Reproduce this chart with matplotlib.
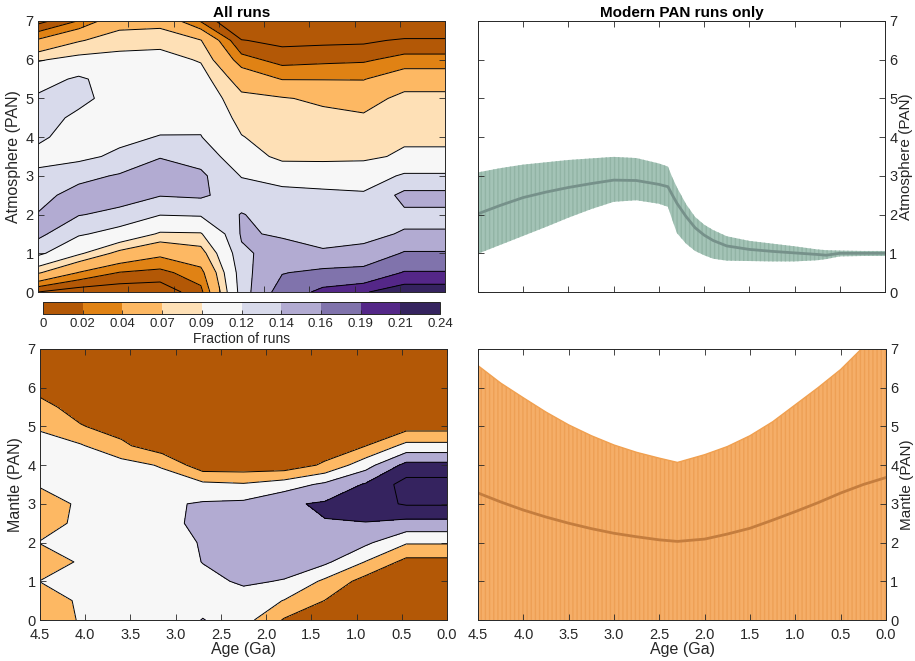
import numpy as np
import matplotlib
matplotlib.use('Agg')
import matplotlib as mpl
import matplotlib.pyplot as plt
from matplotlib.colors import ListedColormap, BoundaryNorm

plt.rcParams['font.family'] = ['Liberation Sans', 'DejaVu Sans']
plt.rcParams['hatch.linewidth'] = 1.0

# grid of the run statistics: ages (Ga) and PAN levels
ages = [4.5, 4.05, 3.6, 3.15, 2.7, 2.25, 1.8, 1.35, 0.9, 0.45, 0.0]
pan = [0.0, 0.5, 1.0, 1.5, 2.0, 2.5, 3.0, 3.5, 4.0, 4.5, 5.0, 5.5, 6.0, 6.5, 7.0]

# fraction of runs, atmosphere; one list per age column, PAN 0 -> 7
atm_frac = [
    [0.000, 0.073, 0.126, 0.145, 0.141, 0.133, 0.125, 0.113, 0.124, 0.128, 0.124, 0.109, 0.088, 0.043, -0.008],
    [-0.012, 0.039, 0.094, 0.123, 0.141, 0.148, 0.134, 0.115, 0.110, 0.116, 0.125, 0.124, 0.097, 0.068, 0.021],
    [-0.014, 0.019, 0.063, 0.111, 0.135, 0.148, 0.142, 0.124, 0.115, 0.113, 0.112, 0.107, 0.097, 0.081, 0.060],
    [-0.015, 0.014, 0.046, 0.087, 0.121, 0.141, 0.150, 0.139, 0.121, 0.112, 0.108, 0.104, 0.098, 0.083, 0.062],
    [0.014, 0.032, 0.060, 0.088, 0.123, 0.143, 0.144, 0.132, 0.121, 0.113, 0.106, 0.100, 0.088, 0.071, 0.018],
    [0.131, 0.133, 0.137, 0.142, 0.141, 0.130, 0.119, 0.107, 0.091, 0.083, 0.076, 0.058, 0.028, 0.001, -0.030],
    [0.170, 0.159, 0.147, 0.138, 0.131, 0.124, 0.115, 0.082, 0.080, 0.076, 0.072, 0.039, 0.012, -0.006, -0.025],
    [0.198, 0.165, 0.141, 0.137, 0.130, 0.126, 0.107, 0.084, 0.082, 0.077, 0.065, 0.039, 0.015, -0.005, -0.025],
    [0.208, 0.168, 0.143, 0.137, 0.130, 0.124, 0.104, 0.086, 0.080, 0.074, 0.058, 0.039, 0.017, -0.004, -0.025],
    [0.222, 0.192, 0.162, 0.141, 0.137, 0.145, 0.124, 0.093, 0.087, 0.081, 0.078, 0.055, 0.027, 0.003, -0.030],
    [0.222, 0.192, 0.162, 0.141, 0.137, 0.145, 0.124, 0.093, 0.087, 0.081, 0.078, 0.055, 0.027, 0.003, -0.030],
]

# fraction of runs, mantle
mantle_frac = [
    [0.060, 0.070, 0.101, 0.070, 0.102, 0.080, 0.075, 0.105, 0.120, 0.115, 0.095, 0.065, 0.035, 0.020, 0.010],
    [0.105, 0.108, 0.112, 0.106, 0.115, 0.110, 0.108, 0.118, 0.120, 0.105, 0.053, 0.030, 0.020, 0.015, 0.010],
    [0.115, 0.118, 0.120, 0.122, 0.125, 0.127, 0.128, 0.125, 0.120, 0.060, 0.030, 0.020, 0.015, 0.010, 0.010],
    [0.110, 0.118, 0.122, 0.127, 0.132, 0.138, 0.142, 0.125, 0.095, 0.020, 0.015, 0.010, 0.010, 0.010, 0.010],
    [0.152, 0.130, 0.140, 0.151, 0.153, 0.160, 0.155, 0.112, 0.020, 0.010, 0.010, 0.010, 0.010, 0.010, 0.010],
    [0.120, 0.135, 0.155, 0.170, 0.180, 0.175, 0.160, 0.105, 0.020, 0.010, 0.010, 0.010, 0.010, 0.010, 0.010],
    [0.045, 0.098, 0.148, 0.165, 0.178, 0.190, 0.193, 0.125, 0.020, 0.010, 0.010, 0.010, 0.010, 0.010, 0.010],
    [0.000, 0.049, 0.090, 0.160, 0.180, 0.198, 0.206, 0.160, 0.058, 0.020, 0.010, 0.010, 0.010, 0.010, 0.010],
    [0.000, 0.010, 0.030, 0.098, 0.160, 0.198, 0.230, 0.205, 0.130, 0.049, 0.020, 0.010, 0.010, 0.010, 0.010],
    [0.000, 0.000, 0.010, 0.035, 0.105, 0.185, 0.255, 0.270, 0.215, 0.115, 0.030, 0.010, 0.005, 0.005, 0.005],
    [0.000, 0.000, 0.010, 0.035, 0.105, 0.185, 0.255, 0.270, 0.215, 0.115, 0.030, 0.010, 0.005, 0.005, 0.005],
]

# contour levels / colorbar
levels = [0, 0.02, 0.04, 0.07, 0.09, 0.12, 0.14, 0.16, 0.19, 0.21, 0.24]
level_labels = ['0', '0.02', '0.04', '0.07', '0.09', '0.12', '0.14', '0.16', '0.19', '0.21', '0.24']
mantle_levels = [0.05, 0.10, 0.15, 0.20, 0.25]

# modern-PAN runs: mean and spread
atm_age = [4.5, 4.25, 4.0, 3.75, 3.5, 3.25, 3.0, 2.75, 2.5, 2.4, 2.35, 2.3, 2.2, 2.1, 2.0,
           1.9, 1.75, 1.5, 1.25, 1.0, 0.75, 0.65, 0.5, 0.25, 0.0]
atm_mean = [2.02, 2.24, 2.44, 2.58, 2.70, 2.80, 2.89, 2.88, 2.78, 2.72, 2.50, 2.29, 1.95, 1.66, 1.47,
            1.33, 1.19, 1.10, 1.05, 1.01, 0.97, 0.95, 1.00, 1.00, 1.00]
atm_hi = [3.09, 3.20, 3.29, 3.35, 3.41, 3.45, 3.49, 3.46, 3.32, 3.24, 2.95, 2.70, 2.27, 1.94, 1.74,
          1.60, 1.44, 1.32, 1.25, 1.18, 1.10, 1.08, 1.07, 1.06, 1.06]
atm_lo = [0.99, 1.22, 1.45, 1.68, 1.92, 2.14, 2.33, 2.37, 2.28, 2.20, 1.85, 1.52, 1.25, 1.06, 0.95,
          0.86, 0.81, 0.80, 0.79, 0.79, 0.82, 0.85, 0.92, 0.93, 0.93]

mantle_age = [4.5, 4.25, 4.0, 3.75, 3.5, 3.25, 3.0, 2.75, 2.5, 2.3, 2.0, 1.75, 1.5, 1.25, 1.0,
              0.75, 0.5, 0.25, 0.0]
mantle_mean = [3.28, 3.05, 2.84, 2.66, 2.50, 2.36, 2.24, 2.15, 2.07, 2.03, 2.09, 2.22, 2.37, 2.58, 2.80,
               3.03, 3.28, 3.50, 3.68]
mantle_hi = [6.57, 6.12, 5.74, 5.37, 5.04, 4.76, 4.52, 4.33, 4.18, 4.07, 4.27, 4.48, 4.76, 5.12, 5.56,
             6.00, 6.47, 7.05, 7.60]

puor = ['#b35806', '#e08214', '#fdb863', '#fee0b6', '#f7f7f7',
        '#d8daeb', '#b2abd2', '#8073ac', '#542788', '#35235f']
ink = '#262626'

W, H = 915, 661
fig = plt.figure(figsize=(W / 100, H / 100), dpi=100)


def box(x0, y0, x1, y1):
    return [x0 / W, 1 - y1 / H, (x1 - x0) / W, (y1 - y0) / H]


ax_atm = fig.add_axes(box(38, 21, 445, 292))
ax_atm_pan = fig.add_axes(box(478, 21, 885, 292))
ax_man = fig.add_axes(box(40, 349, 447, 620))
ax_man_pan = fig.add_axes(box(478, 349, 886, 620))
cax = fig.add_axes(box(43, 302, 440, 314))


def style(ax, right=False, xlabels=True):
    ax.set_xlim(4.5, 0)
    ax.set_ylim(0, 7)
    ax.set_xticks([4.5, 4.0, 3.5, 3.0, 2.5, 2.0, 1.5, 1.0, 0.5, 0.0])
    ax.set_xticklabels(['4.5', '4.0', '3.5', '3.0', '2.5', '2.0', '1.5', '1.0', '0.5', '0.0'])
    ax.set_yticks(range(8))
    ax.tick_params(direction='in', top=True, bottom=True, left=True, right=True,
                   length=4, width=0.6, color=ink, labelcolor=ink, labelsize=10.5, pad=3)
    ax.tick_params(axis='x', pad=6)
    ax.tick_params(labelbottom=xlabels, labelleft=not right, labelright=right)
    if right:
        ax.yaxis.set_label_position('right')
    if xlabels:
        ax.set_xlabel('Age (Ga)', fontsize=11.5, color=ink, labelpad=0)
    for s in ax.spines.values():
        s.set_color(ink)
        s.set_linewidth(0.7)


# atmosphere, all runs
Z = np.array(atm_frac).T
ax_atm.contourf(ages, pan, Z, levels=[-1] + levels[1:-1] + [1], colors=puor)
ax_atm.contour(ages, pan, Z, levels=levels[:-1], colors='k', linewidths=0.7)
style(ax_atm, xlabels=False)
ax_atm.set_ylabel('Atmosphere (PAN)', fontsize=11.5, color=ink, labelpad=3)
ax_atm.set_title('All runs', fontsize=11, fontweight='bold', pad=3)

# mantle, all runs
Zm = np.array(mantle_frac).T
ax_man.contourf(ages, pan, Zm, levels=[-1] + mantle_levels + [1],
                colors=[puor[0], puor[2], puor[4], puor[6], puor[9], puor[9]])
ax_man.contour(ages, pan, Zm, levels=mantle_levels, colors='k', linewidths=0.7)
style(ax_man)
ax_man.set_ylabel('Mantle (PAN)', fontsize=11.5, color=ink, labelpad=3)

# colorbar
sm = mpl.cm.ScalarMappable(norm=BoundaryNorm(levels, 10), cmap=ListedColormap(puor))
cb = fig.colorbar(sm, cax=cax, orientation='horizontal', ticks=levels, spacing='uniform')
cb.set_ticklabels(level_labels)
cb.ax.tick_params(direction='in', length=3, width=0.6, color=ink, labelcolor=ink, labelsize=9.5, pad=3)
cb.outline.set_linewidth(0.7)
cb.outline.set_edgecolor(ink)
cb.set_label('Fraction of runs', fontsize=10, color=ink, labelpad=1)

# modern PAN runs, atmosphere
ax_atm_pan.fill_between(atm_age, atm_lo, atm_hi, facecolor='#a3c3b6', edgecolor='#92b4a5',
                        hatch='||||', linewidth=0)
ax_atm_pan.plot(atm_age, atm_mean, color='#76918a', lw=2)
style(ax_atm_pan, right=True, xlabels=False)
ax_atm_pan.set_ylabel('Atmosphere (PAN)', fontsize=11, color=ink, labelpad=1)
ax_atm_pan.set_title('Modern PAN runs only', fontsize=11, fontweight='bold', pad=3)

# modern PAN runs, mantle
ax_man_pan.fill_between(mantle_age, 0, mantle_hi, facecolor='#f5ae68', edgecolor='#eea055',
                        hatch='||||', linewidth=0)
ax_man_pan.plot(mantle_age, mantle_hi, color='#f0a050', lw=1)
ax_man_pan.plot(mantle_age, mantle_mean, color='#c47d3e', lw=2)
style(ax_man_pan, right=True)
ax_man_pan.set_ylabel('Mantle (PAN)', fontsize=11, color=ink, labelpad=1)

fig.savefig('out.png', dpi=100)
